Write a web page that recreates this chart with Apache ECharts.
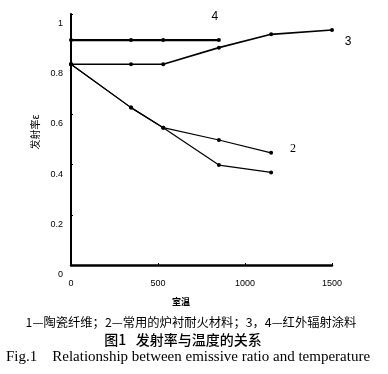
<!DOCTYPE html>
<html><head><meta charset="utf-8">
<script src="https://cdn.jsdelivr.net/npm/echarts@6/dist/echarts.min.js"></script>
<style>html,body{margin:0;padding:0;background:#fff}#c{width:388px;height:374px}</style>
</head><body><div id="c"></div>
<script>
// temperatures (x) and emissivity (y) for each curve
const temps1 = [0, 345, 530, 850, 1150];
const series1 = [0.80, 0.627, 0.547, 0.398, 0.369];   // 1 — ceramic fibre (lower)
const temps2 = [0, 345, 530, 850, 1150];
const series2 = [0.80, 0.627, 0.547, 0.498, 0.447];   // 2 — refractory lining
const temps3 = [0, 345, 530, 850, 1150, 1500];
const series3 = [0.80, 0.80, 0.80, 0.866, 0.919, 0.936]; // 3 — IR coating
const temps4 = [0, 345, 530, 850];
const series4 = [0.896, 0.896, 0.896, 0.896];         // 4 — IR coating
const xTicks = [0, 500, 1000, 1500];
const yTicks = [0, 0.2, 0.4, 0.6, 0.8, 1];

function pts(xs, ys, lbl, off, font) {
  return xs.map((x, i) => {
    const d = { value: [x, ys[i]] };
    if (lbl && i === xs.length - 1) {
      d.label = { show: true, formatter: lbl, position: 'inside', offset: off,
        color: '#000', fontSize: 12, fontFamily: font };
    }
    return d;
  });
}
const chart = echarts.init(document.getElementById('c'));
const common = { type: 'line', symbol: 'circle', symbolSize: 4, animation: false,
  itemStyle: { color: '#000' } };
chart.setOption({
  backgroundColor: '#fff',
  animation: false,
  grid: { left: 71, top: 14, right: 56, bottom: 109 },
  xAxis: {
    type: 'value', min: 0, max: 1500, interval: 500,
    axisLine: { lineStyle: { color: '#000', width: 2.5 } },
    axisTick: { inside: true, length: 2, lineStyle: { color: '#000' } },
    splitLine: { show: false },
    axisLabel: { color: '#000', fontSize: 9, fontFamily: 'Liberation Sans', margin: 14,
      customValues: xTicks, formatter: v => String(v) }
  },
  yAxis: {
    type: 'value', min: 0, max: 1, interval: 0.2,
    axisLine: { show: true, lineStyle: { color: '#000', width: 2 } },
    axisTick: { show: true, inside: true, length: 2, lineStyle: { color: '#000' } },
    splitLine: { show: false },
    axisLabel: { color: '#000', fontSize: 9, fontFamily: 'Liberation Sans', margin: 8,
      verticalAlign: 'top', padding: [5, 0, 0, 0], customValues: yTicks, formatter: v => String(v) }
  },
  series: [
    Object.assign({}, common, { data: pts(temps1, series1), lineStyle: { color: '#000', width: 1.2 } }),
    Object.assign({}, common, { data: pts(temps2, series2, '2', [22, -4], 'Liberation Serif'), lineStyle: { color: '#000', width: 1.2 } }),
    Object.assign({}, common, { data: pts(temps3, series3, '3', [16, 12], 'Liberation Sans'), lineStyle: { color: '#000', width: 1.6 } }),
    Object.assign({}, common, { data: pts(temps4, series4, '4', [-4, -23], 'Liberation Sans'), lineStyle: { color: '#000', width: 2.4 } })
  ],
  graphic: [
    { type: 'text', x: 35, y: 132, rotation: Math.PI / 2,
      style: { text: '发射率ε', fill: '#000', font: '10px "Noto Sans CJK SC"', align: 'center', verticalAlign: 'middle' } },
    { type: 'text', x: 181, y: 302,
      style: { text: '室温', fill: '#000', font: 'bold 9px "Noto Sans CJK SC"', align: 'center', verticalAlign: 'middle' } },
    { type: 'text', x: 191, y: 322,
      style: { text: '1—陶瓷纤维；2—常用的炉衬耐火材料；3，4—红外辐射涂料', fill: '#000', font: '12.3px "Noto Sans CJK SC"', align: 'center', verticalAlign: 'middle' } },
    { type: 'text', x: 183, y: 340,
      style: { text: '图1   发射率与温度的关系', fill: '#000', font: '500 14px "Noto Sans CJK SC"', align: 'center', verticalAlign: 'middle' } },
    { type: 'text', x: 188, y: 357,
      style: { text: 'Fig.1    Relationship between emissive ratio and temperature', fill: '#000', font: '15px "Liberation Serif"', align: 'center', verticalAlign: 'middle' } }
  ]
});
</script></body></html>
